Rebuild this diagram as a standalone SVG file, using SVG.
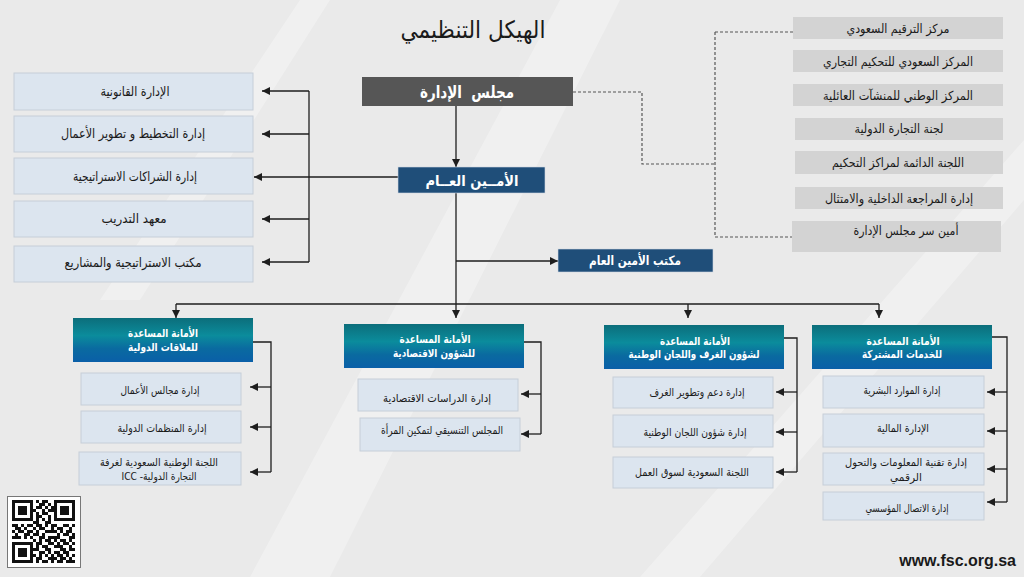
<svg xmlns="http://www.w3.org/2000/svg" width="1024" height="577" viewBox="0 0 1024 577">
<defs>
<style>
.bg{fill:#eaeaea}
.lb{fill:#dce5ef;stroke:#c6ced8;stroke-width:1}
.gb{fill:#d3d3d3}
.t{font-family:'DejaVu Sans',sans-serif;text-anchor:middle;fill:#1a1a1a;direction:rtl}
.s13{font-size:13px}
.s12{font-size:12.5px}
.s11{font-size:11px}
.s10{font-size:10.5px}
.w{fill:#ffffff;font-weight:bold}
.ln{stroke:#1e1e1e;stroke-width:1.3;fill:none}
.dash{stroke:#555;stroke-width:1.2;stroke-dasharray:3 2;fill:none}
.qr{stroke:#111;stroke-width:3;fill:none}
</style>
<marker id="ah" markerUnits="userSpaceOnUse" markerWidth="9" markerHeight="8" refX="8" refY="4" orient="auto">
<path d="M0,0 L8,4 L0,8 Z" fill="#1e1e1e"/>
</marker>
<linearGradient id="tg" x1="0" y1="0" x2="0" y2="1">
<stop offset="0" stop-color="#0c6e7b"/>
<stop offset="0.4" stop-color="#0b8c9c"/>
<stop offset="0.7" stop-color="#0a6aa0"/>
<stop offset="1" stop-color="#0a5fa8"/>
</linearGradient>
</defs>
<rect class="bg" x="0" y="0" width="1024" height="577"/>
<g opacity="0.3" fill="#ffffff">
<polygon points="250,577 330,577 620,0 560,0"/>
<polygon points="640,577 700,577 1024,200 1024,140"/>
<polygon points="100,300 140,300 330,0 300,0"/>
</g>
<text class="t" x="473" y="38" style="font-size:24px" textLength="145" lengthAdjust="spacingAndGlyphs">الهيكل التنظيمي</text>

<g id="connectors">
<path class="ln" d="M456,106 V167" marker-end="url(#ah)"/>
<path class="ln" d="M456,193 V318" marker-end="url(#ah)"/>
<path class="ln" d="M456,261 H558" marker-end="url(#ah)"/>
<path class="ln" d="M398,177 H254" marker-end="url(#ah)"/>
<path class="ln" d="M309,91 V262"/>
<path class="ln" d="M309,91 H262" marker-end="url(#ah)"/>
<path class="ln" d="M309,134 H262" marker-end="url(#ah)"/>
<path class="ln" d="M309,219 H262" marker-end="url(#ah)"/>
<path class="ln" d="M309,262 H262" marker-end="url(#ah)"/>
<path class="dash" d="M573,92 H642 V164 H715"/>
<path class="dash" d="M715,32 V237"/>
<path class="dash" d="M715,32 H793"/>
<path class="dash" d="M715,237 H792"/>
<path class="ln" d="M176,304 H879"/>
<path class="ln" d="M176,304 V318" marker-end="url(#ah)"/>
<path class="ln" d="M688,304 V318" marker-end="url(#ah)"/>
<path class="ln" d="M879,304 V318" marker-end="url(#ah)"/>
<path class="ln" d="M253,342 H271 V472"/>
<path class="ln" d="M271,387 H250" marker-end="url(#ah)"/>
<path class="ln" d="M271,427 H250" marker-end="url(#ah)"/>
<path class="ln" d="M271,472 H250" marker-end="url(#ah)"/>
<path class="ln" d="M524,342 H541 V434"/>
<path class="ln" d="M541,394 H521" marker-end="url(#ah)"/>
<path class="ln" d="M541,434 H521" marker-end="url(#ah)"/>
<path class="ln" d="M784,338 H797 V472"/>
<path class="ln" d="M797,392 H776" marker-end="url(#ah)"/>
<path class="ln" d="M797,432 H776" marker-end="url(#ah)"/>
<path class="ln" d="M797,472 H776" marker-end="url(#ah)"/>
<path class="ln" d="M992,337 H1007 V502"/>
<path class="ln" d="M1007,392 H987" marker-end="url(#ah)"/>
<path class="ln" d="M1007,431 H987" marker-end="url(#ah)"/>
<path class="ln" d="M1007,469 H987" marker-end="url(#ah)"/>
<path class="ln" d="M1007,502 H987" marker-end="url(#ah)"/>
</g>

<g id="board"><rect x="362" y="77" width="211" height="29" fill="#565656"/><text class="t w" x="467" y="98" style="font-size:17px;white-space:pre" xml:space="preserve" textLength="94" lengthAdjust="spacingAndGlyphs">مجلس  الإدارة</text></g>
<g id="sg"><rect x="398" y="167" width="147" height="26" fill="#1f4e79" stroke="#d0d8e0" stroke-width="0.6"/><text class="t w" x="472" y="186" style="font-size:15px" textLength="93" lengthAdjust="spacingAndGlyphs">الأمــين العــام</text></g>
<g id="sgoffice"><rect x="558" y="249" width="155" height="23" fill="#1f4e79" stroke="#d0d8e0" stroke-width="0.6"/><text class="t w" x="635" y="265" style="font-size:13px" textLength="92" lengthAdjust="spacingAndGlyphs">مكتب الأمين العام</text></g>

<g id="legal"><rect class="lb" x="14" y="73" width="239" height="37"/><text class="t s13" x="135" y="96" textLength="69" lengthAdjust="spacingAndGlyphs">الإدارة القانونية</text></g>
<g id="planning"><rect class="lb" x="14" y="116" width="239" height="36"/><text class="t s13" x="133" y="138" textLength="144" lengthAdjust="spacingAndGlyphs">إدارة التخطيط و تطوير الأعمال</text></g>
<g id="partnerships"><rect class="lb" x="14" y="158" width="239" height="36"/><text class="t s13" x="135" y="181" textLength="124" lengthAdjust="spacingAndGlyphs">إدارة الشراكات الاستراتيجية</text></g>
<g id="training"><rect class="lb" x="14" y="201" width="239" height="36"/><text class="t s13" x="134" y="223" textLength="65" lengthAdjust="spacingAndGlyphs">معهد التدريب</text></g>
<g id="strategy"><rect class="lb" x="14" y="246" width="239" height="36"/><text class="t s13" x="133" y="267" textLength="137" lengthAdjust="spacingAndGlyphs">مكتب الاستراتيجية والمشاريع</text></g>

<g id="r1"><rect class="gb" x="793" y="17" width="210" height="22"/><text class="t s12" x="898" y="33" textLength="103" lengthAdjust="spacingAndGlyphs">مركز الترقيم السعودي</text></g>
<g id="r2"><rect class="gb" x="793" y="50" width="210" height="22"/><text class="t s12" x="898" y="66" textLength="150" lengthAdjust="spacingAndGlyphs">المركز السعودي للتحكيم التجاري</text></g>
<g id="r3"><rect class="gb" x="793" y="84" width="210" height="22"/><text class="t s12" x="898" y="100" textLength="150" lengthAdjust="spacingAndGlyphs">المركز الوطني للمنشآت العائلية</text></g>
<g id="r4"><rect class="gb" x="795" y="118" width="208" height="22"/><text class="t s12" x="899" y="133" textLength="89" lengthAdjust="spacingAndGlyphs">لجنة التجارة الدولية</text></g>
<g id="r5"><rect class="gb" x="795" y="151" width="208" height="23"/><text class="t s12" x="898" y="167" textLength="132" lengthAdjust="spacingAndGlyphs">اللجنة الدائمة لمراكز التحكيم</text></g>
<g id="r6"><rect class="gb" x="795" y="187" width="208" height="22"/><text class="t s12" x="899" y="203" textLength="148" lengthAdjust="spacingAndGlyphs">إدارة المراجعة الداخلية والامتثال</text></g>
<g id="r7"><rect class="gb" x="792" y="221" width="209" height="31"/><text class="t s12" x="906" y="235" textLength="105" lengthAdjust="spacingAndGlyphs">أمين سر مجلس الإدارة</text></g>

<g id="ir"><rect x="73" y="318" width="180" height="44" fill="url(#tg)"/><text class="t w s11" x="163" y="337" textLength="70" lengthAdjust="spacingAndGlyphs">الأمانة المساعدة</text><text class="t w s11" x="163" y="351" textLength="70" lengthAdjust="spacingAndGlyphs">للعلاقات الدولية</text></g>
<g id="ir1"><rect class="lb" x="81" y="373" width="160" height="32"/><text class="t s11" x="160" y="394" textLength="79" lengthAdjust="spacingAndGlyphs">إدارة مجالس الأعمال</text></g>
<g id="ir2"><rect class="lb" x="81" y="411" width="160" height="32"/><text class="t s11" x="162" y="432" textLength="89" lengthAdjust="spacingAndGlyphs">إدارة المنظمات الدولية</text></g>
<g id="ir3"><rect class="lb" x="79" y="452" width="162" height="33"/><text class="t s10" x="159" y="466" textLength="118" lengthAdjust="spacingAndGlyphs">اللجنة الوطنية السعودية لغرفة</text><text class="t s10" x="159" y="480" textLength="75" lengthAdjust="spacingAndGlyphs">التجارة الدولية- ICC</text></g>

<g id="ec"><rect x="344" y="324" width="180" height="44" fill="url(#tg)"/><text class="t w s11" x="435" y="343" textLength="71" lengthAdjust="spacingAndGlyphs">الأمانة المساعدة</text><text class="t w s11" x="434" y="357" textLength="82" lengthAdjust="spacingAndGlyphs">للشؤون الاقتصادية</text></g>
<g id="ec1"><rect class="lb" x="358" y="379" width="160" height="32"/><text class="t s11" x="437" y="402" textLength="108" lengthAdjust="spacingAndGlyphs">إدارة الدراسات الاقتصادية</text></g>
<g id="ec2"><rect class="lb" x="360" y="418" width="160" height="33"/><text class="t s11" x="442" y="434" textLength="122" lengthAdjust="spacingAndGlyphs">المجلس التنسيقي لتمكين المرأة</text></g>

<g id="ch"><rect x="604" y="325" width="180" height="44" fill="url(#tg)"/><text class="t w s11" x="695" y="345" textLength="70" lengthAdjust="spacingAndGlyphs">الأمانة المساعدة</text><text class="t w s11" x="694" y="358" textLength="131" lengthAdjust="spacingAndGlyphs">لشؤون الغرف واللجان الوطنية</text></g>
<g id="ch1"><rect class="lb" x="613" y="377" width="160" height="31"/><text class="t s11" x="697" y="396" textLength="95" lengthAdjust="spacingAndGlyphs">إدارة دعم وتطوير الغرف</text></g>
<g id="ch2"><rect class="lb" x="613" y="415" width="160" height="32"/><text class="t s11" x="695" y="436" textLength="103" lengthAdjust="spacingAndGlyphs">إدارة شؤون اللجان الوطنية</text></g>
<g id="ch3"><rect class="lb" x="613" y="457" width="160" height="31"/><text class="t s11" x="692" y="476" textLength="114" lengthAdjust="spacingAndGlyphs">اللجنة السعودية لسوق العمل</text></g>

<g id="ss"><rect x="812" y="325" width="180" height="44" fill="url(#tg)"/><text class="t w s11" x="903" y="345" textLength="73" lengthAdjust="spacingAndGlyphs">الأمانة المساعدة</text><text class="t w s11" x="902" y="358" textLength="80" lengthAdjust="spacingAndGlyphs">للخدمات المشتركة</text></g>
<g id="ss1"><rect class="lb" x="823" y="376" width="161" height="32"/><text class="t s11" x="902" y="394" textLength="77" lengthAdjust="spacingAndGlyphs">إدارة الموارد البشرية</text></g>
<g id="ss2"><rect class="lb" x="823" y="414" width="161" height="33"/><text class="t s11" x="903" y="432" textLength="52" lengthAdjust="spacingAndGlyphs">الإدارة المالية</text></g>
<g id="ss3"><rect class="lb" x="823" y="453" width="161" height="32"/><text class="t s10" x="906" y="466" textLength="122" lengthAdjust="spacingAndGlyphs">إدارة تقنية المعلومات والتحول</text><text class="t s10" x="906" y="481">الرقمي</text></g>
<g id="ss4"><rect class="lb" x="823" y="492" width="161" height="28"/><text class="t s11" x="907" y="512" textLength="83" lengthAdjust="spacingAndGlyphs">إدارة الاتصال المؤسسي</text></g>

<g id="qr">
<rect x="7.5" y="496.5" width="73" height="71" fill="#ffffff" stroke="#777" stroke-width="1"/>
<line class="qr" x1="12" x2="75" y1="501.5" y2="501.5" stroke-dasharray="21 3 3 3 6 6 21"/>
<line class="qr" x1="12" x2="75" y1="504.5" y2="504.5" stroke-dasharray="3 15 3 6 6 3 3 3 3 15 3 0"/>
<line class="qr" x1="12" x2="75" y1="507.5" y2="507.5" stroke-dasharray="3 3 9 3 3 3 6 3 3 3 6 3 9 3 3 0"/>
<line class="qr" x1="12" x2="75" y1="510.5" y2="510.5" stroke-dasharray="3 3 9 3 6 6 3 3 9 3 9 3 3 0"/>
<line class="qr" x1="12" x2="75" y1="513.5" y2="513.5" stroke-dasharray="3 3 9 3 3 3 3 3 6 6 3 3 9 3 3 0"/>
<line class="qr" x1="12" x2="75" y1="516.5" y2="516.5" stroke-dasharray="3 15 3 3 6 6 3 3 3 15 3 0"/>
<line class="qr" x1="12" x2="75" y1="519.5" y2="519.5" stroke-dasharray="21 3 3 3 3 3 3 3 21 0"/>
<line class="qr" x1="12" x2="75" y1="522.5" y2="522.5" stroke-dasharray="0 21 6 6 6 24"/>
<line class="qr" x1="12" x2="75" y1="525.5" y2="525.5" stroke-dasharray="6 3 3 3 6 3 6 3 3 3 6 6 6 3 3 0"/>
<line class="qr" x1="12" x2="75" y1="528.5" y2="528.5" stroke-dasharray="0 3 6 3 3 6 3 3 6 6 3 3 6 6 3 3"/>
<line class="qr" x1="12" x2="75" y1="531.5" y2="531.5" stroke-dasharray="3 3 6 3 6 3 3 6 12 3 3 3 6 3"/>
<line class="qr" x1="12" x2="75" y1="534.5" y2="534.5" stroke-dasharray="0 3 3 6 6 3 6 3 3 12 3 3 6 3 3 0"/>
<line class="qr" x1="12" x2="75" y1="537.5" y2="537.5" stroke-dasharray="9 3 3 3 3 6 6 3 12 9 6 0"/>
<line class="qr" x1="12" x2="75" y1="540.5" y2="540.5" stroke-dasharray="0 21 3 3 3 3 6 3 3 3 6 3 3 3"/>
<line class="qr" x1="12" x2="75" y1="543.5" y2="543.5" stroke-dasharray="21 3 6 6 6 3 3 3 6 3 3 0"/>
<line class="qr" x1="12" x2="75" y1="546.5" y2="546.5" stroke-dasharray="3 15 3 3 3 3 6 6 9 6 3 3"/>
<line class="qr" x1="12" x2="75" y1="549.5" y2="549.5" stroke-dasharray="3 3 9 3 9 6 6 9 6 3 6 0"/>
<line class="qr" x1="12" x2="75" y1="552.5" y2="552.5" stroke-dasharray="3 3 9 3 3 6 6 3 3 3 6 3 6 6"/>
<line class="qr" x1="12" x2="75" y1="555.5" y2="555.5" stroke-dasharray="3 3 9 3 6 3 3 3 3 3 3 3 6 3 3 3 3 0"/>
<line class="qr" x1="12" x2="75" y1="558.5" y2="558.5" stroke-dasharray="3 15 3 3 6 6 9 3 6 3 3 3"/>
<line class="qr" x1="12" x2="75" y1="561.5" y2="561.5" stroke-dasharray="21 3 3 3 6 3 3 3 6 3 9 0"/>
</g>
<text x="1016" y="566" style="font-family:'Liberation Sans',Arial,sans-serif;font-size:16px;font-weight:bold;fill:#1a1a1a;text-anchor:end">www.fsc.org.sa</text>
</svg>
